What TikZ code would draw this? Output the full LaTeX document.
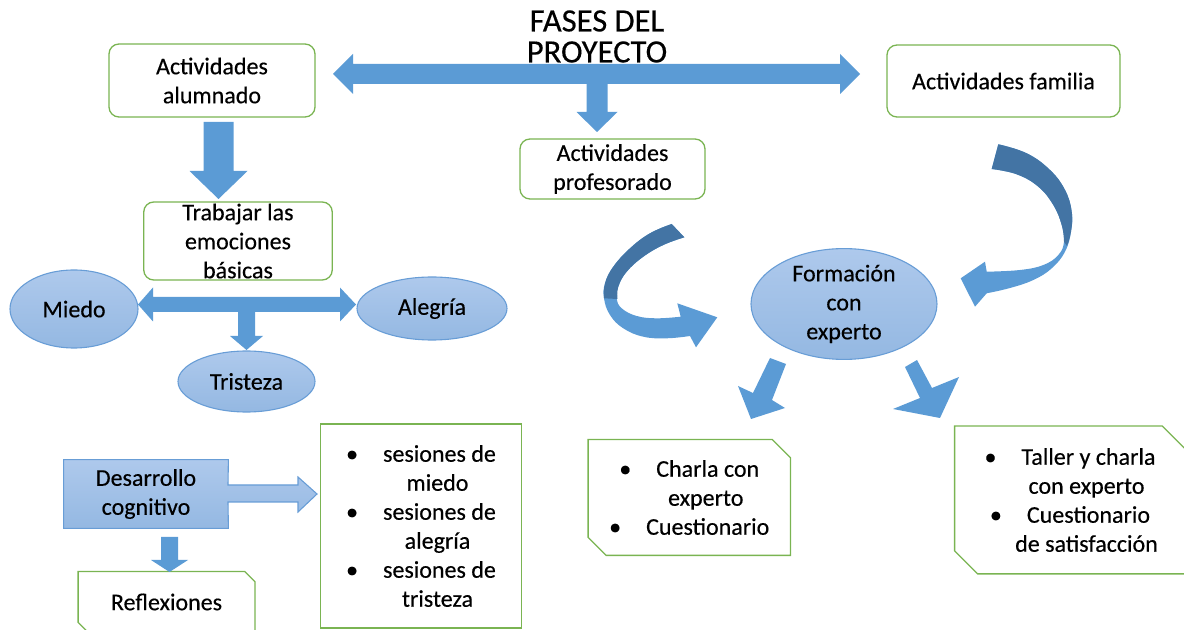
\documentclass[tikz,border=0pt]{standalone}
\usepackage{fontspec}
\setmainfont{Carlito}[FakeBold=0.35]
\usetikzlibrary{calc,shapes.geometric,backgrounds}
\definecolor{boxgreen}{RGB}{122,180,82}
\definecolor{ablue}{RGB}{91,155,213}
\definecolor{adark}{RGB}{67,116,164}
\definecolor{elltop}{RGB}{174,201,236}
\definecolor{ellbot}{RGB}{148,184,226}
\definecolor{ellborder}{RGB}{104,157,214}
\newcommand\normfont{\fontsize{12}{14.5}\selectfont}
\newcommand\titlefont{\fontsize{16.3}{15.5}\selectfont}
\newcommand\bul{\makebox[18.5pt][l]{\textbullet}}
\newcommand\ind{\hspace*{16.5pt}}
\newcommand\snipbox[2]{\draw[gline] (#1.north west) -- ($(#1.north east)+(-#2,0)$) -- ($(#1.north east)+(0,#2)$) -- (#1.south east) -- ($(#1.south west)+(#2,0)$) -- ($(#1.south west)+(0,-#2)$) -- cycle;}
\begin{document}
\begin{tikzpicture}[x=0.5pt,y=-0.5pt,
  txt/.style={inner sep=0pt, align=center, font=\normfont},
  gbox/.style={txt, draw=boxgreen, line width=0.65pt, rounded corners=5pt},
  gline/.style={draw=boxgreen, line width=0.65pt},
  ell/.style={txt, ellipse, draw=ellborder, line width=0.55pt, top color=elltop, bottom color=ellbot},
  blockarrow/.style={fill=ablue},
  darkside/.style={fill=adark}]
\path[use as bounding box] (0,0) rectangle (1184,630);
\clip (0,0) rectangle (1184,630);

% title
\node[txt, font=\titlefont] (title) at (597,36.5) {FASES DEL\\PROYECTO};

% green boxes
\node[gbox, minimum width=103pt, minimum height=36.5pt] (alum) at (212,80.5) {Actividades\\alumnado};
\node[gbox, minimum width=116.5pt, minimum height=36pt] (fam) at (1003.5,81) {Actividades familia};
\node[gbox, minimum width=92.5pt, minimum height=30pt] (prof) at (612.5,169) {Actividades\\profesorado};
\node[gbox, minimum width=94.25pt, minimum height=39pt] (trab) at (238,241) {Trabajar las\\emociones\\básicas};

% ellipses
\node[ell, minimum width=64pt, minimum height=39pt] (miedo) at (74,309) {Miedo};
\node[ell, minimum width=75pt, minimum height=31.5pt] (alegria) at (432,308.5) {Alegría};
\node[ell, minimum width=68.5pt, minimum height=30.5pt] (tristeza) at (246.5,381.5) {Tristeza};
\node[ell, minimum width=93pt, minimum height=42.5pt] (form) at (844,304) {Formación\\con\\experto};

% lower boxes
\node[txt, minimum width=82pt, minimum height=34pt] (desar) at (146,494) {Desarrollo\\cognitivo};
\begin{scope}[on background layer]
\draw[draw=ellborder, line width=0.55pt, top color=elltop, bottom color=ellbot]
  (desar.north west) -- (desar.north east) -- (228,485) -- (298,485) -- (298,477) -- (317,494)
  -- (298,512) -- (298,502) -- (228,502) -- (desar.south east) -- (desar.south west) -- cycle;
\end{scope}
\node[txt, minimum width=88pt, minimum height=30pt] (refl) at (166.5,602) {Reflexiones};
\snipbox{refl}{10}
\node[gbox, rounded corners=0pt, minimum width=100.25pt, minimum height=102pt] (ses) at (421,526)
  {\bul sesiones de\\\ind miedo\\\bul sesiones de\\\ind alegría\\\bul sesiones de\\\ind tristeza};
\node[txt, minimum width=100.75pt, minimum height=57.5pt] (charla) at (689.25,497.5)
  {\bul Charla con\\\ind experto\\\bul Cuestionario};
\snipbox{charla}{18}
\node[txt, minimum width=115pt, minimum height=73.5pt] (taller) at (1070,500)
  {\bul Taller y charla\\\ind con experto\\\bul Cuestionario\\\ind de satisfacción};
\snipbox{taller}{23}

% block arrows
\fill[blockarrow] (333,74) -- (353,54) -- (353,64) -- (840,64) -- (840,54) -- (860,74) -- (840,94)
  -- (840,84) -- (607.5,84) -- (607.5,112) -- (617.5,112) -- (597,132) -- (576.5,112)
  -- (586.5,112) -- (586.5,84) -- (353,84) -- (353,94) -- cycle;
\fill[blockarrow] (203.5,122) -- (233.5,122) -- (233.5,171) -- (247.5,171) -- (218.5,199)
  -- (189.5,171) -- (203.5,171) -- cycle;
\fill[blockarrow] (138,304.5) -- (153,287.5) -- (153,297) -- (340,297) -- (340,287.5) -- (356,304.5)
  -- (340,321.5) -- (340,312) -- (255,312) -- (255,336) -- (263,336) -- (246.5,350) -- (230,336)
  -- (238,336) -- (238,312) -- (153,312) -- (153,321.5) -- cycle;
\fill[blockarrow] (770,358) -- (786,364) -- (772,400) -- (785,408) -- (751,419) -- (738,386) -- (753,393) -- cycle;
\fill[blockarrow] (905,367) -- (917,360) -- (932,388) -- (959,377) -- (940,418) -- (893,409) -- (920,398) -- cycle;
\fill[blockarrow] (161,537) -- (178,537) -- (178,560) -- (188,560) -- (169.5,572) -- (151,560) -- (161,560) -- cycle;

% curved arrow profesorado -> formacion
\fill[blockarrow] plot[smooth,tension=0.7] coordinates {(671.7,224) (650,233.3) (630,248.3) (613.3,266.7) (605,283.3) (604,298.3) (610,315) (623.3,328.3) (643.3,336.7) (666.7,338.3) (690,336)}
  -- (696,347.3) -- (717.3,317.3) -- (677.3,303.3)
  -- plot[smooth,tension=0.7] coordinates {(680.7,316.7) (656.7,318.3) (636.7,316) (621.7,308.3) (616.7,298.3) (618.3,286.7) (626.7,271.7) (643.3,256.7) (663.3,245) (684.3,237.3)} -- cycle;
\fill[darkside] plot[smooth,tension=0.7] coordinates {(671.7,224) (650,233.3) (630,248.3) (613.3,266.7) (605,283.3) (604,298.3)}
  -- plot[smooth,tension=0.7] coordinates {(617.5,299) (618.3,286.7) (626.7,271.7) (643.3,256.7) (663.3,245) (684.3,237.3)} -- cycle;

% curved arrow familia -> formacion
\fill[blockarrow] plot[smooth,tension=0.7] coordinates {(998.3,144.3) (1026.7,153.3) (1050,170) (1065,190) (1071.7,211.7) (1071,231.7) (1065,251.7) (1051.7,268.3) (1033.3,280) (1010,288) (986.7,293.3)}
  -- (975,306.7) -- (960.7,278.3) -- (985,261.7)
  -- plot[smooth,tension=0.7] coordinates {(986.7,271.7) (1020,270) (1043.3,265) (1058.3,255) (1064,241.7) (1061.7,225) (1053.3,205) (1038.3,186.7) (1016.7,174.3) (991.7,169)} -- cycle;
\fill[darkside] plot[smooth,tension=0.7] coordinates {(998.3,144.3) (1026.7,153.3) (1050,170) (1065,190) (1071.7,211.7) (1071,231.7) (1067,246)}
  -- plot[smooth,tension=0.7] coordinates {(1064,241.7) (1061.7,225) (1053.3,205) (1038.3,186.7) (1016.7,174.3) (991.7,169)} -- cycle;
\end{tikzpicture}
\end{document}
